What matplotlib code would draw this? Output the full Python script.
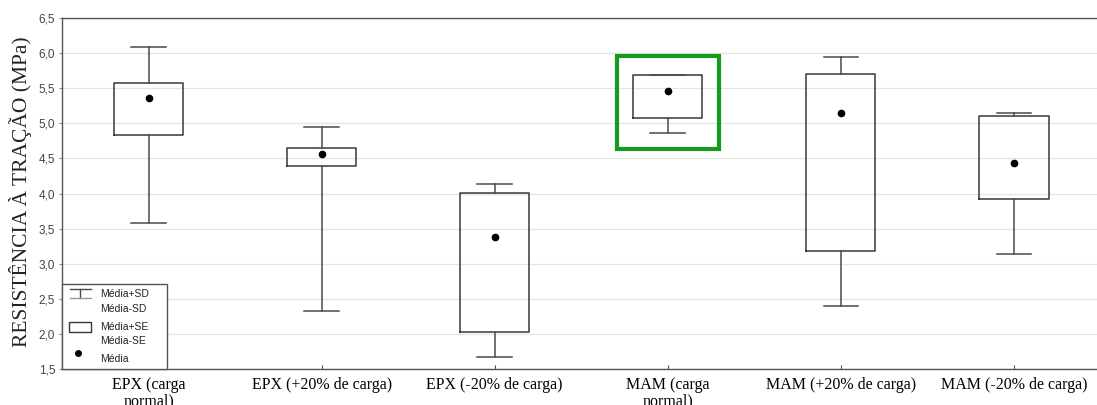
import matplotlib.pyplot as plt
from matplotlib.patches import Rectangle
from matplotlib.lines import Line2D

# valores (MPa)
categorias = ["EPX (carga\nnormal)", "EPX (+20% de carga)", "EPX (-20% de carga)",
              "MAM (carga\nnormal)", "MAM (+20% de carga)", "MAM (-20% de carga)"]
media = [5.36, 4.56, 3.38, 5.46, 5.14, 4.44]
se_sup = [5.57, 4.65, 4.01, 5.69, 5.70, 5.11]
se_inf = [4.83, 4.39, 2.02, 5.08, 3.18, 3.92]
sd_sup = [6.08, 4.95, 4.14, 5.69, 5.95, 5.15]
sd_inf = [3.58, 2.32, 1.67, 4.86, 2.40, 3.14]
destaque = 3  # MAM (carga normal)
destaque_y = [4.64, 5.96]

W, H = 1097, 405
fig = plt.figure(figsize=(W / 100, H / 100), dpi=100)
ax = fig.add_axes([62 / W, 36 / H, (W - 62) / W, (369 - 18) / H])

cor = "#4a4a4a"
stats = []
for i in range(len(categorias)):
    stats.append(dict(med=media[i], q1=se_inf[i], q3=se_sup[i],
                      whislo=sd_inf[i], whishi=sd_sup[i], fliers=[]))
pos = list(range(len(categorias)))
ax.bxp(stats, positions=pos, widths=0.4, capwidths=0.2, showfliers=False,
       boxprops=dict(color="#3d3535", linewidth=1.1),
       whiskerprops=dict(color=cor, linewidth=1.1),
       capprops=dict(color=cor, linewidth=1.1),
       medianprops=dict(visible=False), zorder=3)
ax.plot(pos, media, "o", color="black", markersize=4.5, zorder=4)

ax.add_patch(Rectangle((destaque - 0.296, destaque_y[0]), 0.592,
                       destaque_y[1] - destaque_y[0], fill=False,
                       edgecolor="#159a1c", linewidth=3, zorder=5))

ax.set_xlim(-0.5, 5.48)
ax.set_ylim(1.5, 6.5)
ax.set_yticks([1.5 + 0.5 * k for k in range(11)])
ax.set_yticklabels([("%.1f" % (1.5 + 0.5 * k)).replace(".", ",") for k in range(11)],
                   fontsize=8.5, color="#444444", family="Liberation Sans")
ax.set_xticks(pos)
ax.set_xticklabels(categorias, fontsize=11.5, family="Liberation Serif",
                   linespacing=1.0)
ax.tick_params(axis="x", direction="in", length=3, pad=6, color=cor)
ax.tick_params(axis="y", direction="out", length=2, pad=3, color="#888888")
ax.yaxis.grid(True, color="#e4e4e4", linewidth=0.9)
ax.set_axisbelow(True)
for s in ["left", "bottom", "top"]:
    ax.spines[s].set_color("#555555")
    ax.spines[s].set_linewidth(1.0)
ax.spines["right"].set_visible(False)

fig.text(21 / W, 1 - 192 / H, "RESISTÊNCIA À TRAÇÃO (MPa)", rotation=90,
         ha="center", va="center", fontsize=15.5, family="Liberation Serif",
         color="#222222")

# legenda desenhada a mao
def px(x, y):
    return x / W, 1 - y / H

x0, y0 = px(62, 369)
x1, y1 = px(167, 284)
fig.add_artist(Rectangle((x0, y0), x1 - x0, y1 - y0, transform=fig.transFigure,
                         facecolor="white", edgecolor="#555555", linewidth=1.0,
                         zorder=10))

def linha(xs, ys, **kw):
    pts = [px(a, b) for a, b in zip(xs, ys)]
    fig.add_artist(Line2D([p[0] for p in pts], [p[1] for p in pts],
                          transform=fig.transFigure, zorder=11, **kw))

linha([80, 80], [289, 298], color=cor, linewidth=1)
linha([70, 91], [289, 289], color=cor, linewidth=1)
linha([70, 91], [298, 298], color="#999999", linewidth=1)
bx, by = px(69, 332)
bx2, by2 = px(91, 322)
fig.add_artist(Rectangle((bx, by), bx2 - bx, by2 - by, transform=fig.transFigure,
                         facecolor="white", edgecolor="#3d3535", linewidth=1,
                         zorder=11))
linha([78], [353], marker="o", color="black", markersize=4, linestyle="none")

textos = [("Média+SD", 294), ("Média-SD", 309), ("Média+SE", 327),
          ("Média-SE", 341), ("Média", 359)]
for t, yy in textos:
    tx, ty = px(100, yy)
    fig.text(tx, ty, t, ha="left", va="center", fontsize=7.5,
             family="Liberation Sans", color="#222222", zorder=12)

plt.savefig("out.png", dpi=100)
